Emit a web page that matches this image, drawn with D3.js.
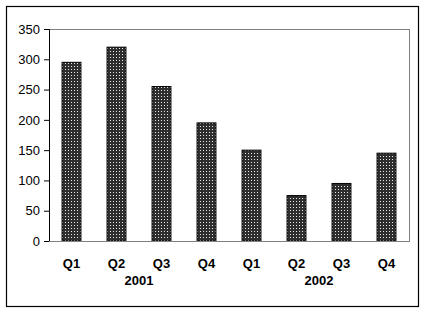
<!DOCTYPE html>
<html lang="en">
<head>
<meta charset="utf-8">
<title>Quarterly bars</title>
<script src="https://d3js.org/d3.v7.min.js"></script>
<style>
  body { margin: 0; background: #fff; }
  text { font-family: Arial, "Liberation Sans", sans-serif; }
</style>
</head>
<body>
<div id="chart"></div>
<script>
// data
var quarters = ["Q1", "Q2", "Q3", "Q4", "Q1", "Q2", "Q3", "Q4"];
var years = ["2001", "2002"];
var values = [295, 320, 255, 195, 150, 75, 95, 145];
var yTicks = [0, 50, 100, 150, 200, 250, 300, 350];

var W = 426, H = 315;
var margin = {top: 29, right: 17, bottom: 74, left: 49},
    width = W - margin.left - margin.right,
    height = H - margin.top - margin.bottom;

var svg = d3.select("#chart")
  .append("svg")
    .attr("width", W)
    .attr("height", H);

// dotted fill for the bars
var pat = svg.append("defs").append("pattern")
    .attr("id", "dots")
    .attr("width", 3)
    .attr("height", 3)
    .attr("patternUnits", "userSpaceOnUse");
pat.append("rect").attr("width", 3).attr("height", 3).attr("fill", "#2e2e2e");
pat.append("rect").attr("x", 1).attr("y", 1).attr("width", 1).attr("height", 1).attr("fill", "#e8e8e8");

// outer frame
svg.append("rect")
    .attr("x", 6.5).attr("y", 6.5)
    .attr("width", 412).attr("height", 300)
    .attr("fill", "none")
    .attr("stroke", "#000")
    .attr("stroke-width", 1.2);

var g = svg.append("g")
    .attr("transform", "translate(" + margin.left + "," + margin.top + ")");

var x = d3.scaleBand()
    .domain(d3.range(quarters.length))
    .range([0, width])
    .paddingInner(0.58)
    .paddingOuter(0.29);

var y = d3.scaleLinear()
    .domain([0, 350])
    .range([height, 0]);

// plot area box (top and right in grey)
g.append("rect")
    .attr("x", 0.5).attr("y", 0.5)
    .attr("width", width).attr("height", height)
    .attr("fill", "none")
    .attr("stroke", "#808080")
    .attr("stroke-width", 1);

// bars
g.selectAll("rect.bar")
  .data(values)
  .enter().append("rect")
    .attr("class", "bar")
    .attr("x", function(d, i) { return x(i); })
    .attr("y", function(d) { return y(d); })
    .attr("width", x.bandwidth())
    .attr("height", function(d) { return height - y(d); })
    .attr("fill", "url(#dots)")
    .attr("stroke", "#000")
    .attr("stroke-width", 1);

// y axis
var yAxis = g.append("g")
    .call(d3.axisLeft(y).tickValues(yTicks).tickSize(5).tickPadding(4));
yAxis.select(".domain").attr("stroke", "#000");
yAxis.selectAll(".tick line").attr("stroke", "#000");
yAxis.selectAll("text").attr("font-size", 13).attr("fill", "#000");

// x axis line
g.append("line")
    .attr("x1", 0).attr("x2", width + 0.5)
    .attr("y1", height + 0.5).attr("y2", height + 0.5)
    .attr("stroke", "#808080");

// quarter labels
g.selectAll("text.q")
  .data(quarters)
  .enter().append("text")
    .attr("class", "q")
    .attr("x", function(d, i) { return x(i) + x.bandwidth() / 2; })
    .attr("y", height + 27)
    .attr("text-anchor", "middle")
    .attr("font-size", 13)
    .attr("font-weight", "bold")
    .text(function(d) { return d; });

// year labels, centred under each group of four
g.selectAll("text.yr")
  .data(years)
  .enter().append("text")
    .attr("class", "yr")
    .attr("x", function(d, i) { return (x(i * 4 + 1) + x(i * 4 + 2) + x.bandwidth()) / 2; })
    .attr("y", height + 44)
    .attr("text-anchor", "middle")
    .attr("font-size", 13)
    .attr("font-weight", "bold")
    .text(function(d) { return d; });
</script>
</body>
</html>
